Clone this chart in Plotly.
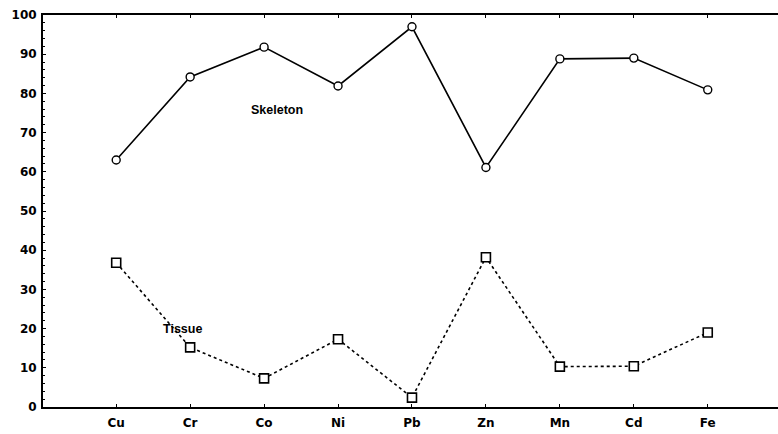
import plotly.graph_objects as go

metals = ["Cu", "Cr", "Co", "Ni", "Pb", "Zn", "Mn", "Cd", "Fe"]
skeleton = [63.0, 84.2, 91.8, 81.9, 97.0, 61.1, 88.8, 89.0, 80.9]
tissue = [36.8, 15.2, 7.3, 17.3, 2.4, 38.2, 10.3, 10.4, 19.0]
y_ticks = [0, 10, 20, 30, 40, 50, 60, 70, 80, 90, 100]

font_family = "DejaVu Sans, Arial, sans-serif"
label_family = "Liberation Sans, Arial, sans-serif"

fig = go.Figure()
fig.add_trace(go.Scatter(
    x=metals, y=skeleton, mode="lines+markers", name="Skeleton",
    line=dict(color="black", width=1.6, dash="solid"),
    marker=dict(symbol="circle", size=8, color="white", line=dict(width=1.4, color="black")),
))
fig.add_trace(go.Scatter(
    x=metals, y=tissue, mode="lines+markers", name="Tissue",
    line=dict(color="black", width=1.6, dash="dot"),
    marker=dict(symbol="square", size=9, color="white", line=dict(width=1.6, color="black")),
))

fig.add_annotation(x=2.17, y=75.7, text="Skeleton", showarrow=False,
                   font=dict(family=label_family, size=12.5, color="black", weight="bold"))
fig.add_annotation(x=0.9, y=20.0, text="Tissue", showarrow=False,
                   font=dict(family=label_family, size=12.5, color="black", weight="bold"))

fig.update_layout(
    width=778, height=434,
    margin=dict(l=43, r=0, t=15, b=27),
    paper_bgcolor="white", plot_bgcolor="white",
    showlegend=False,
    font=dict(family=font_family, size=12, color="black"),
)
fig.update_xaxes(
    type="category", categoryorder="array", categoryarray=metals,
    range=[-0.99, 8.95],
    showgrid=False, zeroline=False,
    showline=True, linecolor="black", linewidth=2, mirror="ticks",
    ticks="inside", ticklen=3, tickcolor="black", tickwidth=1,
    ticklabelstandoff=4,
    tickfont=dict(family=font_family, size=12, color="black", weight="bold"),
)
fig.update_yaxes(
    range=[0, 100], tickvals=y_ticks,
    showgrid=False, zeroline=False,
    showline=True, linecolor="black", linewidth=2, mirror=False,
    ticks="inside", ticklen=3, tickcolor="black", tickwidth=1,
    minor=dict(ticks="inside", ticklen=2, dtick=2, tickcolor="black"),
    ticklabelstandoff=2,
    tickfont=dict(family=font_family, size=12, color="black", weight="bold"),
)

fig.write_html("out.html")
